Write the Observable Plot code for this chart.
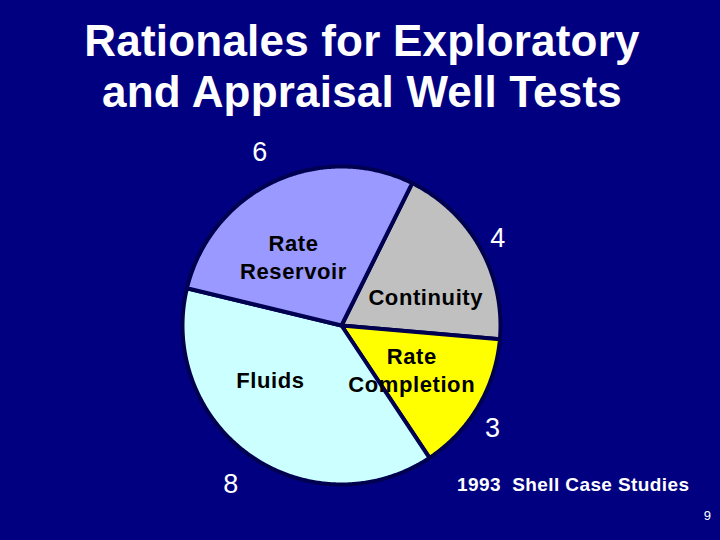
<!DOCTYPE html>
<html><head><meta charset="utf-8">
<script src="https://cdn.jsdelivr.net/npm/d3@7"></script>
<script src="https://cdn.jsdelivr.net/npm/@observablehq/plot@0.6"></script>
<style>
html,body{margin:0;padding:0;background:#000080;}
#page{position:relative;width:720px;height:540px;background:#000080;overflow:hidden;font-family:"Liberation Sans",Arial,sans-serif;}
#title{height:125px;box-sizing:border-box;padding-top:15px;padding-left:4px;color:#fff;font-weight:bold;font-size:44px;line-height:51px;text-align:center;letter-spacing:0.2px;}
#chart svg{display:block;}
#caption{position:absolute;left:457px;top:475px;font-size:19px;line-height:19px;font-weight:bold;color:#fff;white-space:pre;letter-spacing:0.4px;}
#pagenum{position:absolute;right:9px;top:509px;font-size:13px;line-height:13px;color:#fff;}
</style></head><body>
<div id="page">
<div id="title">Rationales for Exploratory<br>and Appraisal Well Tests</div>
<div id="chart"></div>
<div id="caption">1993  Shell Case Studies</div>
<div id="pagenum">9</div>
</div>
<script>
// Data
const categories = ["Continuity", "Rate Completion", "Fluids", "Rate Reservoir"];
const labels = ["Continuity", "Rate\nCompletion", "Fluids", "Rate\nReservoir"];
const values = [4, 3, 8, 6];
const colors = ["#C0C0C0", "#FFFF00", "#CCFFFF", "#9999FF"];

// Layout helpers (not data)
const startDeg = 26.4;
const cx = 341, cy = 200, R = 159;
const nameNudge = [[8, 14], [-5, -1], [-21, -18], [-11, 10]];
const valueNudge = [[-7, 5], [-10, 7], [-3, 5], [-2, -3]];

const start = startDeg * Math.PI / 180;
const arcs = d3.pie().sort(null).startAngle(start).endAngle(start + 2 * Math.PI)(values);

const pts = [];
arcs.forEach((a, i) => {
  const cat = categories[i], color = colors[i];
  const n = Math.max(4, Math.ceil((a.endAngle - a.startAngle) / (Math.PI / 360)));
  pts.push({cat, color, x: 0, y: 0});
  for (let k = 0; k <= n; k++) {
    const t = a.startAngle + (a.endAngle - a.startAngle) * k / n;
    pts.push({cat, color, x: Math.sin(t), y: Math.cos(t)});
  }
  pts.push({cat, color, x: 0, y: 0});
});

const mid = a => (a.startAngle + a.endAngle) / 2;
const font = "Liberation Sans, Arial, sans-serif";

const labelMarks = [];
arcs.forEach((a, i) => {
  const m = mid(a);
  labelMarks.push(Plot.text([{x: 0.55 * Math.sin(m), y: 0.55 * Math.cos(m), t: labels[i]}], {
    x: "x", y: "y", text: "t", fill: "black", fontSize: 22, fontWeight: "bold",
    fontFamily: font, lineHeight: 1.25, textAnchor: "middle", lineAnchor: "middle",
    dx: nameNudge[i][0], dy: nameNudge[i][1]
  }));
  labelMarks.push(Plot.text([{x: 1.18 * Math.sin(m), y: 1.18 * Math.cos(m), t: String(values[i])}], {
    x: "x", y: "y", text: "t", fill: "white", fontSize: 27, fontWeight: "normal",
    fontFamily: font, textAnchor: "middle", lineAnchor: "middle",
    dx: valueNudge[i][0], dy: valueNudge[i][1]
  }));
});

const chart = Plot.plot({
  width: 720, height: 415,
  margin: 0,
  style: {background: "transparent", overflow: "visible", letterSpacing: "0.6px"},
  x: {domain: [-1, 1], range: [cx - R, cx + R], axis: null},
  y: {domain: [-1, 1], range: [cy + R, cy - R], axis: null},
  color: {type: "identity"},
  marks: [
    Plot.line(pts, {x: "x", y: "y", z: "cat", fill: "color", stroke: "#000050",
      strokeWidth: 4, strokeLinejoin: "round", curve: "linear"}),
    ...labelMarks
  ]
});
document.getElementById("chart").appendChild(chart);
</script>
</body></html>
